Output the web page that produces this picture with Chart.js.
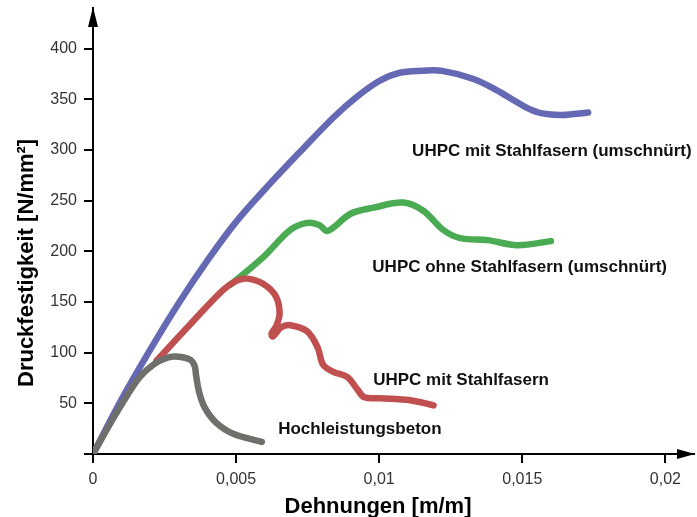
<!DOCTYPE html>
<html>
<head>
<meta charset="utf-8">
<script src="https://cdn.jsdelivr.net/npm/chart.js@4"></script>
<style>
  html, body { margin: 0; padding: 0; background: #fff; }
  canvas { display: block; }
</style>
</head>
<body>
<canvas id="chart" width="697" height="517"></canvas>
<script>
// Strain [m/m] / strength [N/mm²]
const grayX  = [0, 0.0006, 0.0012, 0.00164, 0.0021, 0.0026, 0.003, 0.0034, 0.00355, 0.0036, 0.0037, 0.0039, 0.0043, 0.0049, 0.0059];
const grayY  = [0, 30, 58, 76, 88, 95, 96, 93, 87, 78, 62, 46, 31, 20, 12];

const redX   = [0.00222, 0.0034, 0.00455, 0.00503, 0.0054, 0.00594, 0.00638, 0.00652, 0.0064, 0.00624, 0.00628, 0.00658, 0.0069, 0.00748, 0.00785, 0.00804, 0.0084, 0.00888, 0.00923, 0.00948, 0.01003, 0.01108, 0.0119];
const redY   = [92, 128, 162, 171, 173, 168, 156, 139, 126, 119, 116, 125, 127, 121, 105, 88, 81, 76, 64, 56, 55, 53, 48];

const greenX = [0.0048, 0.00594, 0.00689, 0.00748, 0.0079, 0.0082, 0.009, 0.0098, 0.01084, 0.01154, 0.01224, 0.01283, 0.01378, 0.01483, 0.016];
const greenY = [167, 194, 221, 228, 226, 220, 237, 243, 248, 240, 221, 213, 211, 206, 210];

const blueX  = [0, 0.001, 0.002, 0.003, 0.004, 0.005, 0.006, 0.0073, 0.0084, 0.0092, 0.01, 0.0107, 0.0115, 0.0122, 0.0133, 0.0141, 0.0147, 0.0152, 0.0157, 0.0164, 0.0173];
const blueY  = [0, 54, 103, 149, 191, 229, 261, 300, 332, 352, 368, 376, 378, 378, 370, 359, 349, 341, 336, 334.5, 337];

const seriesNames = ['Hochleistungsbeton', 'UHPC mit Stahlfasern', 'UHPC ohne Stahlfasern (umschnürt)', 'UHPC mit Stahlfasern (umschnürt)'];

const xTicks = [0, 0.005, 0.01, 0.015, 0.02];
const xTickLabels = ['0', '0,005', '0,01', '0,015', '0,02'];
const yTicks = [0, 50, 100, 150, 200, 250, 300, 350, 400];
const yTickLabels = ['', '50', '100', '150', '200', '250', '300', '350', '400'];

// curve labels, anchored in data coordinates (left edge, middle)
const curveLabels = [
  { text: 'UHPC mit Stahlfasern (umschnürt)', x: 0.01115, y: 299 },
  { text: 'UHPC ohne Stahlfasern (umschnürt)', x: 0.00976, y: 184 },
  { text: 'UHPC mit Stahlfasern', x: 0.00979, y: 73 },
  { text: 'Hochleistungsbeton', x: 0.00647, y: 24 }
];

function toPoints(xs, ys) {
  return xs.map((x, i) => ({ x: x, y: ys[i] }));
}

function curve(label, xs, ys, color) {
  return {
    label: label,
    data: toPoints(xs, ys),
    showLine: true,
    borderColor: color,
    backgroundColor: color,
    borderWidth: 6.5,
    borderCapStyle: 'round',
    borderJoinStyle: 'round',
    pointRadius: 0,
    pointHoverRadius: 0,
    tension: 0.35,
    fill: false
  };
}

// arrows on the axes, labels on the curves, axis titles
const decorations = {
  id: 'decorations',
  afterDraw(chart) {
    const ctx = chart.ctx;
    const area = chart.chartArea;
    const xs = chart.scales.x;
    const ys = chart.scales.y;
    ctx.save();
    ctx.fillStyle = '#000';
    // y arrow
    ctx.beginPath();
    ctx.moveTo(area.left, area.top - 1);
    ctx.lineTo(area.left - 5, area.top + 19);
    ctx.lineTo(area.left + 5, area.top + 19);
    ctx.closePath();
    ctx.fill();
    // x arrow
    ctx.beginPath();
    ctx.moveTo(area.right + 1, area.bottom);
    ctx.lineTo(area.right - 17, area.bottom - 5);
    ctx.lineTo(area.right - 17, area.bottom + 5);
    ctx.closePath();
    ctx.fill();

    ctx.fillStyle = '#111';
    ctx.font = 'bold 17px "Liberation Sans", Arial, sans-serif';
    ctx.textAlign = 'left';
    ctx.textBaseline = 'middle';
    curveLabels.forEach(l => {
      ctx.fillText(l.text, xs.getPixelForValue(l.x), ys.getPixelForValue(l.y));
    });

    ctx.fillStyle = '#000';
    ctx.font = 'bold 22px "Liberation Sans", Arial, sans-serif';
    ctx.textAlign = 'center';
    ctx.textBaseline = 'alphabetic';
    ctx.fillText('Dehnungen [m/m]', 378, 513);

    ctx.translate(33, 387);
    ctx.rotate(-Math.PI / 2);
    ctx.textAlign = 'left';
    ctx.fillText('Druckfestigkeit [N/mm²]', 0, 0);
    ctx.restore();
  }
};

const tickFont = { family: '"Liberation Sans", Arial, sans-serif', size: 16 };

new Chart(document.getElementById('chart'), {
  type: 'scatter',
  data: {
    datasets: [
      curve(seriesNames[0], grayX, grayY, '#6f706b'),
      curve(seriesNames[1], redX, redY, '#c0504f'),
      curve(seriesNames[2], greenX, greenY, '#4aab52'),
      curve(seriesNames[3], blueX, blueY, '#6568b2')
    ]
  },
  options: {
    responsive: false,
    animation: false,
    devicePixelRatio: 1,
    layout: { padding: { top: 8, right: 3, left: 0, bottom: 0 } },
    plugins: {
      legend: { display: false },
      tooltip: { enabled: false },
      title: { display: false }
    },
    scales: {
      x: {
        type: 'linear',
        position: 'bottom',
        min: 0,
        max: 0.021,
        afterBuildTicks: s => { s.ticks = xTicks.map(v => ({ value: v })); },
        afterFit: s => { s.height = 63; s.paddingLeft = 0; s.paddingRight = 0; },
        grid: { drawOnChartArea: false, drawTicks: true, tickLength: 9, color: '#000', lineWidth: 2 },
        border: { display: true, color: '#000', width: 2 },
        ticks: {
          autoSkip: false,
          maxRotation: 0,
          padding: 7,
          color: '#333',
          font: tickFont,
          callback: (v, i) => xTickLabels[i]
        }
      },
      y: {
        type: 'linear',
        position: 'left',
        min: 0,
        max: 440,
        afterBuildTicks: s => { s.ticks = yTicks.map(v => ({ value: v })); },
        afterFit: s => { s.width = 93; s.paddingTop = 0; s.paddingBottom = 0; },
        grid: { drawOnChartArea: false, drawTicks: true, tickLength: 9, color: '#000', lineWidth: 2 },
        border: { display: true, color: '#000', width: 2 },
        ticks: {
          autoSkip: false,
          padding: 7,
          color: '#333',
          font: tickFont,
          callback: (v, i) => yTickLabels[i]
        }
      }
    }
  },
  plugins: [decorations]
});
</script>
</body>
</html>
